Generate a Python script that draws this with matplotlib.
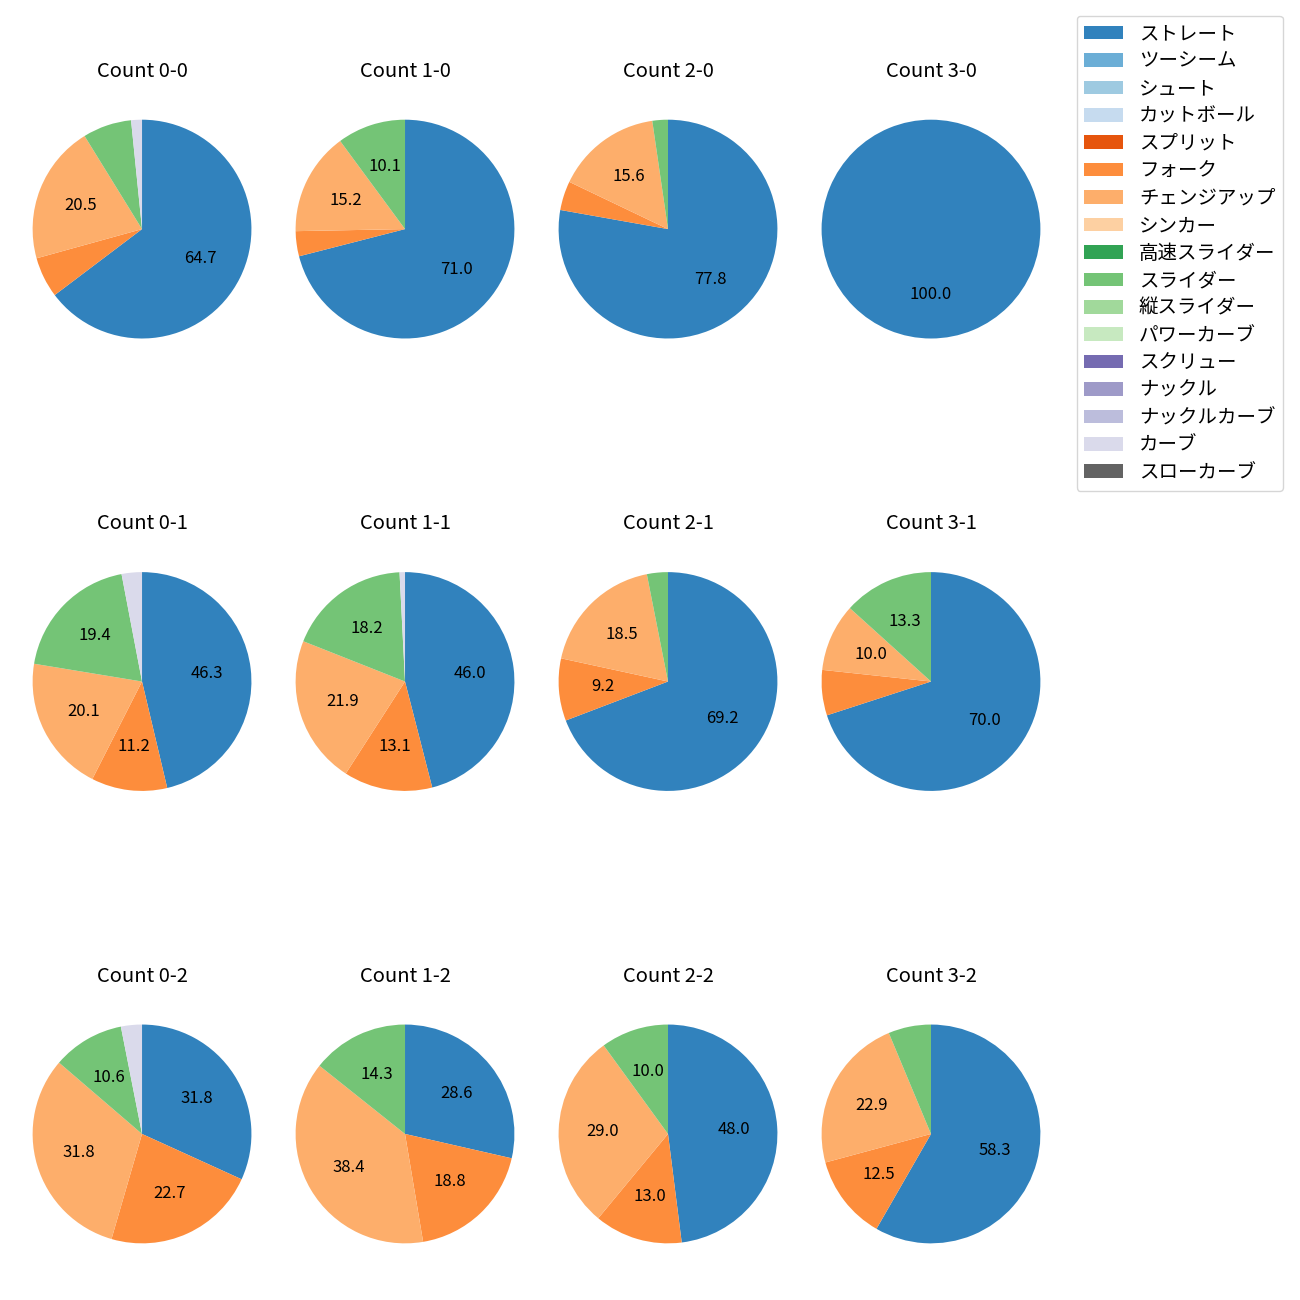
import matplotlib
matplotlib.use("Agg")
import matplotlib.pyplot as plt
from matplotlib.patches import Patch

plt.rcParams['font.family'] = ['Noto Sans CJK JP', 'DejaVu Sans']
plt.rcParams['font.size'] = 12

pitch_types = ["ストレート", "ツーシーム", "シュート", "カットボール", "スプリット", "フォーク",
               "チェンジアップ", "シンカー", "高速スライダー", "スライダー", "縦スライダー",
               "パワーカーブ", "スクリュー", "ナックル", "ナックルカーブ", "カーブ", "スローカーブ"]

counts = ["0-0", "1-0", "2-0", "3-0",
          "0-1", "1-1", "2-1", "3-1",
          "0-2", "1-2", "2-2", "3-2"]

straight = [64.7, 71.0, 77.8, 100.0, 46.3, 46.0, 69.2, 70.0, 31.8, 28.6, 48.0, 58.3]
fork = [6.0, 3.7, 4.3, 0.0, 11.2, 13.1, 9.2, 6.7, 22.7, 18.8, 13.0, 12.5]
changeup = [20.5, 15.2, 15.6, 0.0, 20.1, 21.9, 18.5, 10.0, 31.8, 38.4, 29.0, 22.9]
slider = [7.2, 10.1, 2.3, 0.0, 19.4, 18.2, 3.1, 13.3, 10.6, 14.3, 10.0, 6.3]
curve = [1.6, 0.0, 0.0, 0.0, 3.0, 0.8, 0.0, 0.0, 3.1, 0.0, 0.0, 0.0]

series = {"ストレート": straight, "フォーク": fork, "チェンジアップ": changeup,
          "スライダー": slider, "カーブ": curve}

cmap = plt.get_cmap('tab20c')
colors = {name: cmap(i) for i, name in enumerate(pitch_types)}

fig, axes = plt.subplots(3, 4, figsize=(13, 13), dpi=100)
fig.subplots_adjust(left=0.0081, right=0.8173, bottom=0.0265, top=0.925,
                    wspace=0.0, hspace=0.719)

for idx, cnt in enumerate(counts):
    ax = axes[idx // 4][idx % 4]
    vals, cols = [], []
    for name in pitch_types:
        if name in series and series[name][idx] > 0:
            vals.append(series[name][idx])
            cols.append(colors[name])
    ax.pie(vals, colors=cols, startangle=90, counterclock=False,
           radius=1.04,
           autopct=lambda p: f"{p:.1f}" if p >= 8 else "",
           textprops={'fontsize': 12})
    ax.set_title(f"Count {cnt}", fontsize=14.5, pad=15)

handles = [Patch(facecolor=colors[n], label=n) for n in pitch_types]
fig.legend(handles=handles, loc='upper right', bbox_to_anchor=(0.987, 0.988),
           borderaxespad=0, fontsize=14, labelspacing=0.33)

fig.savefig("out.png", dpi=100)
